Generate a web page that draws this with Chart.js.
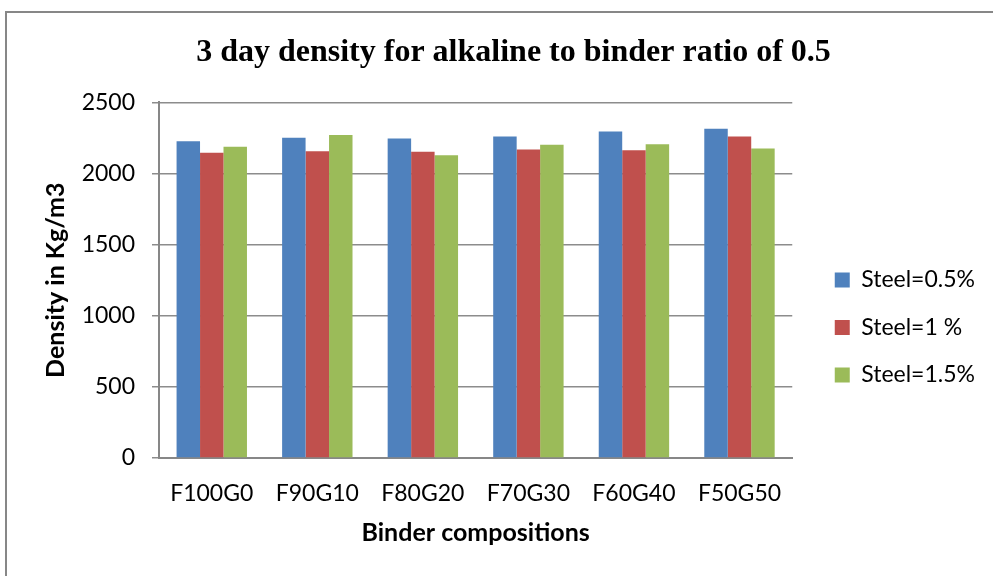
<!DOCTYPE html>
<html>
<head>
<meta charset="utf-8">
<script src="https://cdn.jsdelivr.net/npm/chart.js@4.4.0/dist/chart.umd.min.js"></script>
<style>
  html, body { margin: 0; padding: 0; background: #fff; overflow: hidden; }
  #wrap { position: relative; width: 993px; height: 576px; }
  #frame { position: absolute; left: 5px; top: 11px; width: 1000px; height: 600px; border: 2px solid #878787; }
  canvas { position: absolute; left: 0; top: 0; }
</style>
</head>
<body>
<div id="wrap">
  <div id="frame"></div>
  <canvas id="myChart" width="993" height="576"></canvas>
</div>
<script>
var categories = ['F100G0', 'F90G10', 'F80G20', 'F70G30', 'F60G40', 'F50G50'];
var steel05 = [2227, 2251, 2246, 2260, 2296, 2315];
var steel10 = [2146, 2157, 2153, 2169, 2164, 2260];
var steel15 = [2188, 2270, 2129, 2202, 2206, 2176];
var yTicks = [0, 500, 1000, 1500, 2000, 2500];

var labelFont = { family: 'Lato', size: 23 };
var boldFont = { family: 'Lato', size: 25, weight: 'bold' };

// nudge title and legend sideways, the way the original sits
var nudge = {
    id: 'nudge',
    afterLayout: function (chart) {
        if (chart.titleBlock) {
            chart.titleBlock.left += 30;
            chart.titleBlock.right += 30;
        }
        if (chart.legend) {
            chart.legend.left += 18;
            chart.legend.right += 18;
        }
    }
};

var ctx = document.getElementById('myChart').getContext('2d');
var myChart = new Chart(ctx, {
    type: 'bar',
    data: {
        labels: categories,
        datasets: [
            { label: 'Steel=0.5%', data: steel05, backgroundColor: '#4F81BD' },
            { label: 'Steel=1 %', data: steel10, backgroundColor: '#C0504D' },
            { label: 'Steel=1.5%', data: steel15, backgroundColor: '#9BBB59' }
        ]
    },
    plugins: [nudge],
    options: {
        responsive: false,
        animation: false,
        layout: { padding: { left: 0, right: 26, top: 0, bottom: 20 } },
        datasets: {
            bar: { categoryPercentage: 0.667, barPercentage: 1.0 }
        },
        plugins: {
            title: {
                display: true,
                text: '3 day density for alkaline to binder ratio of 0.5',
                color: '#000',
                font: { family: 'Liberation Serif', size: 32, weight: 'bold' },
                padding: { top: 34, bottom: 30 }
            },
            legend: {
                position: 'right',
                title: { display: true, text: '', font: { size: 10 }, padding: { top: 87, bottom: 0 } },
                labels: {
                    color: '#000',
                    font: labelFont,
                    boxWidth: 15,
                    boxHeight: 15,
                    padding: 24.5
                }
            },
            tooltip: { enabled: false }
        },
        scales: {
            x: {
                grid: { display: false },
                border: { display: true, color: '#878787', width: 2 },
                ticks: { color: '#000', font: labelFont, padding: 14 },
                title: { display: true, text: 'Binder compositions', color: '#000', font: boldFont, padding: { top: 4, bottom: 8 } },
                afterFit: function (scale) { scale.height = 576 - 20 - 458; }
            },
            y: {
                min: 0,
                max: 2500,
                afterBuildTicks: function (scale) {
                    scale.ticks = yTicks.map(function (v) { return { value: v }; });
                },
                grid: { color: '#8c8c8c', lineWidth: 1.5, tickLength: 7 },
                border: { display: true, color: '#878787', width: 2 },
                ticks: {
                    color: '#000', font: labelFont, padding: 17,
                    callback: function (v) { return String(v); }
                },
                title: { display: true, text: 'Density in Kg/m3', color: '#000', font: boldFont, padding: { top: 41, bottom: 4 } },
                afterFit: function (scale) { scale.width = 159; }
            }
        }
    }
});
</script>
</body>
</html>
